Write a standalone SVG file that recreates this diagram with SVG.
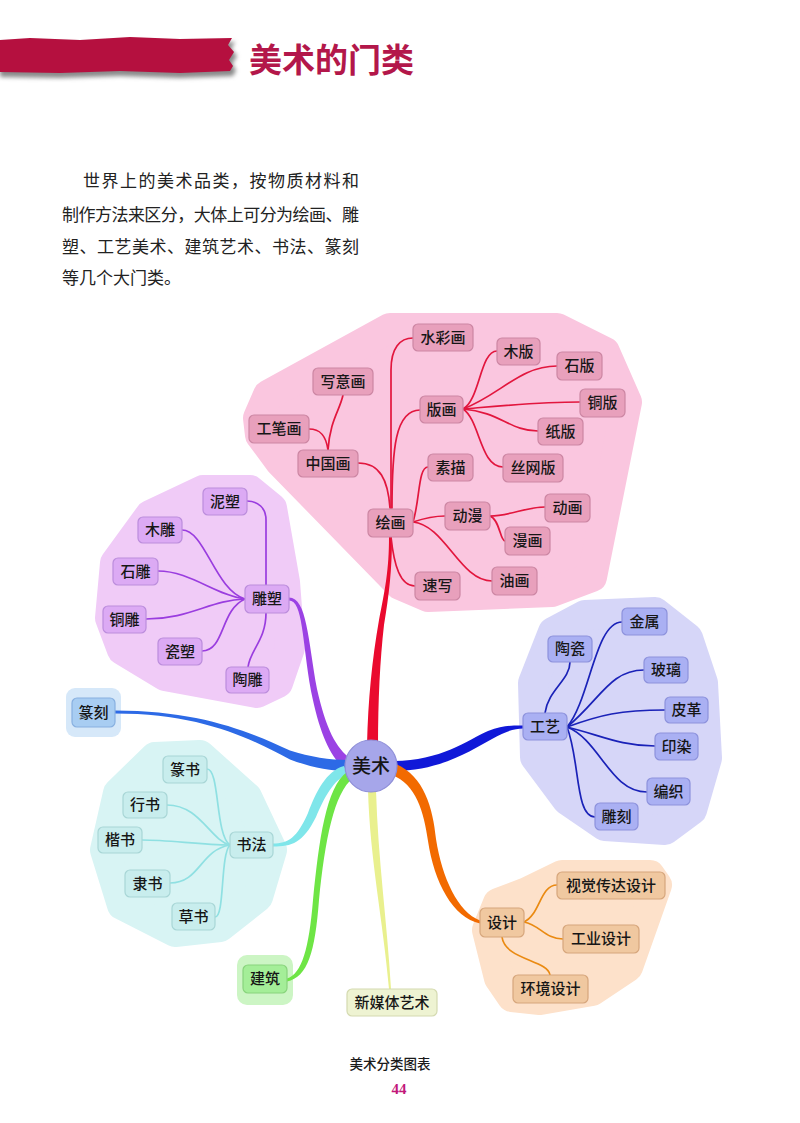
<svg xmlns="http://www.w3.org/2000/svg" width="800" height="1123" viewBox="0 0 800 1123">
<defs>
<style>
.t{font-family:"Noto Sans CJK SC","Noto Sans",sans-serif;font-size:15px;font-weight:500;fill:#161616;text-anchor:middle}
.blob{stroke-width:30;stroke-linejoin:round}
.pk rect{fill:#e8a0bc;stroke:#cc86a3;stroke-width:1.2}
.pu rect{fill:#dcaaf4;stroke:#bb8ddc;stroke-width:1.2}
.bl rect{fill:#aab0f3;stroke:#8d92dc;stroke-width:1.2}
.cy rect{fill:#c8eded;stroke:#a8d6d6;stroke-width:1.2}
.or rect{fill:#f0c8a0;stroke:#d6a67c;stroke-width:1.2}
.sub{fill:none;stroke-width:1.7;stroke-linecap:round}
.para{font-family:"Noto Sans CJK SC","Noto Sans",sans-serif;font-size:17px;fill:#222}
</style>
<filter id="blur" x="-10%" y="-30%" width="120%" height="160%"><feGaussianBlur stdDeviation="2"/></filter>
</defs>
<rect width="800" height="1123" fill="#ffffff"/>

<!-- header -->
<g id="header">
<path d="M0,44 L30,42 L80,44 L130,41 L180,43 L235,42 L231,49 L237,56 L232,64 L236,70 L233,76 L180,78 L120,76 L60,78 L0,77 Z" fill="#8a8a8a" filter="url(#blur)"/>
<path d="M0,40 L30,38 L80,40 L130,37 L180,39 L232,38 L228,45 L234,52 L229,60 L233,66 L230,71 L180,73 L120,71 L60,73 L0,72 Z" fill="#b5103f"/>
<text x="249" y="72" font-family="Noto Sans CJK SC, sans-serif" font-size="33" font-weight="bold" fill="#b3174a">美术的门类</text>
</g>

<!-- paragraph -->
<g id="paragraph">
<text class="para" x="83" y="187" textLength="276" lengthAdjust="spacing">世界上的美术品类，按物质材料和</text>
<text class="para" x="62" y="221" textLength="297" lengthAdjust="spacing">制作方法来区分，大体上可分为绘画、雕</text>
<text class="para" x="62" y="253" textLength="297" lengthAdjust="spacing">塑、工艺美术、建筑艺术、书法、篆刻</text>
<text class="para" x="62" y="284">等几个大门类。</text>
</g>

<!-- background blobs -->
<g id="blobs">
<path class="blob" fill="#fac6df" stroke="#fac6df" d="M258,418 L268,395 L390,328 L557,328 L605,352 L627,402 L592,577 L552,592 L428,597 L400,585 L280,462 L260,435 Z"/>
<path class="blob" fill="#f0cbf7" stroke="#f0cbf7" d="M203,490 L250,490 L272,508 L285,582 L290,648 L278,683 L257,693 L165,676 L122,650 L110,618 L115,563 L150,515 Z"/>
<path class="blob" fill="#d6d6f8" stroke="#d6d6f8" d="M585,615 L655,612 L688,638 L703,683 L707,758 L692,810 L665,830 L605,826 L567,800 L535,757 L533,683 L553,632 Z"/>
<path class="blob" fill="#d8f4f4" stroke="#d8f4f4" d="M155,757 L200,755 L247,797 L272,850 L258,897 L220,927 L175,932 L122,905 L105,850 L118,793 Z"/>
<path class="blob" fill="#fde1ca" stroke="#fde1ca" d="M562,875 L650,875 L657,885 L628,967 L592,991 L540,1000 L512,997 L499,978 L487,930 L498,903 L527,892 Z"/>
<rect x="237" y="955" width="56" height="50" rx="10" fill="#ccf5c4"/>
<rect x="66" y="688" width="55" height="49" rx="9" fill="#d6e8f9"/>
</g>

<!-- connectors -->
<g id="connectors">
<!-- main branches -->
<path d="M367,745 C368,700 372,660 379,620 C385,590 389,570 389,537 L392,537 C392,570 389,595 384,625 C380,660 378,700 378,745 Z" fill="#ea0a2e"/>
<path d="M289,597.5 C307,597.5 308,640 317,689 C326,729 336,748 351,759 L345,769 C330,756 320,735 311,691 C302,640 303,600.5 289,600.5 Z" fill="#9b42e4"/>
<path d="M115,710.5 C200,710.5 250,732 290,750.5 C310,757 330,760 348,760 L348,771 C330,771 310,767 290,759.5 C250,738 200,713.5 115,713.5 Z" fill="#2d6ae6"/>
<path d="M394,761 C440,761 468,740 488,731 C504,725 515,725.5 523,725.5 L523,728.5 C515,728.5 506,731 492,739 C472,750 440,771 394,771 Z" fill="#1018d8"/>
<path d="M396,764 C424,776 433,808 436,839 C442,878 458,912 480,920.5 L480,923.5 C453,918 434,882 428,841 C424,812 416,784 392,775 Z" fill="#f26a00"/>
<path d="M348,774 C334,779 324,798 316,817 C303,843 292,846.5 273,846.5 L273,843.5 C288,843.5 297,838 308,813 C316,792 326,771 344,766 Z" fill="#7fe6ea"/>
<path d="M353,778 C334,793 325,840 319,900 C315,952 308,977 287,981.5 L287,978.5 C302,974 309,948 313,900 C319,840 326,787 347,772 Z" fill="#6ee545"/>
<path d="M376,790 C378,860 387,920 391,989 L389,989 C383,920 370,860 368,790 Z" fill="#e9f08e"/>

<!-- painting sub-branches -->
<g class="sub" stroke="#e2163e">
<path d="M391,508 L391,370 C391,348 400,338 413,338"/>
<path d="M392,508 C392,450 395,410 420,410"/>
<path d="M358,463 C380,463 388,480 390,508"/>
<path d="M328,450 C330,420 340,410 343,395"/>
<path d="M309,429 C320,429 326,435 328,450"/>
<path d="M463,409 C480,400 480,351 497,351"/>
<path d="M463,409 C500,395 520,366 557,366"/>
<path d="M463,409 C510,405 540,402 580,402"/>
<path d="M463,409 C500,412 510,431 538,431"/>
<path d="M463,409 C480,420 480,467 503,467"/>
<path d="M413,522 C420,500 418,467 428,467"/>
<path d="M413,522 C425,518 435,516 445,516"/>
<path d="M490,516 C510,516 525,507 545,507"/>
<path d="M490,516 C500,520 500,541 505,541"/>
<path d="M413,522 C445,525 460,581 492,581"/>
<path d="M391,537 C394,565 400,586 415,586"/>
</g>
<!-- sculpture sub-branches -->
<g class="sub" stroke="#9a3ddf">
<path d="M266,585 L266,520 C266,508 258,501 247,501"/>
<path d="M245,599 C215,590 205,530 182,530"/>
<path d="M245,599 C215,595 190,571 158,571"/>
<path d="M245,599 C210,600 190,619 146,619"/>
<path d="M245,599 C220,610 225,651 202,651"/>
<path d="M266,613 C266,640 250,650 248,667"/>
</g>
<!-- craft sub-branches -->
<g class="sub" stroke="#1a22b8">
<path d="M567,727 C590,700 595,622 622,622"/>
<path d="M567,727 C600,700 610,670 644,670"/>
<path d="M567,727 C600,715 620,710 665,710"/>
<path d="M567,727 C600,735 620,746 655,746"/>
<path d="M567,727 C600,740 610,792 647,792"/>
<path d="M567,727 C580,760 575,817 595,817"/>
<path d="M545,713 C548,690 570,680 570,662"/>
</g>
<!-- calligraphy sub-branches -->
<g class="sub" stroke="#8fe0e2" stroke-width="1.3">
<path d="M230,845 C215,835 220,769 207,769"/>
<path d="M230,845 C210,840 200,805 167,805"/>
<path d="M230,845 C200,845 170,840 142,840"/>
<path d="M230,845 C200,850 200,883 170,883"/>
<path d="M230,845 C220,855 225,917 215,917"/>
</g>
<!-- design sub-branches -->
<g class="sub" stroke="#ea8a12">
<path d="M524,922 C540,915 540,885 557,885"/>
<path d="M524,922 C540,925 545,939 563,939"/>
<path d="M502,937 C505,960 548,960 550,975"/>
</g>
</g>

<!-- painting nodes -->
<g id="shuicaihua" class="pk"><rect x="413" y="324" width="60" height="27" rx="5"/><text class="t" x="443" y="343">水彩画</text></g>
<g id="xieyihua" class="pk"><rect x="313" y="368" width="60" height="27" rx="5"/><text class="t" x="343" y="387">写意画</text></g>
<g id="gongbihua" class="pk"><rect x="249" y="415" width="60" height="28" rx="5"/><text class="t" x="279" y="434">工笔画</text></g>
<g id="zhongguohua" class="pk"><rect x="298" y="450" width="60" height="27" rx="5"/><text class="t" x="328" y="469">中国画</text></g>
<g id="banhua" class="pk"><rect x="420" y="396" width="43" height="27" rx="5"/><text class="t" x="441.5" y="415">版画</text></g>
<g id="muban" class="pk"><rect x="497" y="338" width="43" height="27" rx="5"/><text class="t" x="518.5" y="357">木版</text></g>
<g id="shiban" class="pk"><rect x="557" y="352" width="45" height="28" rx="5"/><text class="t" x="579.5" y="371">石版</text></g>
<g id="tongban" class="pk"><rect x="580" y="389" width="45" height="28" rx="5"/><text class="t" x="602.5" y="408">铜版</text></g>
<g id="zhiban" class="pk"><rect x="538" y="418" width="45" height="27" rx="5"/><text class="t" x="560.5" y="437">纸版</text></g>
<g id="siwangban" class="pk"><rect x="503" y="454" width="60" height="28" rx="5"/><text class="t" x="533" y="473">丝网版</text></g>
<g id="sumiao" class="pk"><rect x="428" y="454" width="45" height="27" rx="5"/><text class="t" x="450.5" y="473">素描</text></g>
<g id="huihua" class="pk"><rect x="368" y="509" width="45" height="28" rx="5"/><text class="t" x="390.5" y="528">绘画</text></g>
<g id="dongman" class="pk"><rect x="445" y="502" width="45" height="28" rx="5"/><text class="t" x="467.5" y="521">动漫</text></g>
<g id="donghua" class="pk"><rect x="545" y="494" width="45" height="28" rx="5"/><text class="t" x="567.5" y="513">动画</text></g>
<g id="manhua" class="pk"><rect x="505" y="527" width="45" height="28" rx="5"/><text class="t" x="527.5" y="546">漫画</text></g>
<g id="youhua" class="pk"><rect x="492" y="567" width="45" height="28" rx="5"/><text class="t" x="514.5" y="586">油画</text></g>
<g id="suxie" class="pk"><rect x="415" y="572" width="45" height="28" rx="5"/><text class="t" x="437.5" y="591">速写</text></g>

<!-- sculpture nodes -->
<g id="nisu" class="pu"><rect x="203" y="488" width="44" height="27" rx="5"/><text class="t" x="225" y="507">泥塑</text></g>
<g id="mudiao" class="pu"><rect x="138" y="517" width="44" height="26" rx="5"/><text class="t" x="160" y="535">木雕</text></g>
<g id="shidiao" class="pu"><rect x="113" y="558" width="45" height="27" rx="5"/><text class="t" x="135.5" y="577">石雕</text></g>
<g id="tongdiao" class="pu"><rect x="103" y="606" width="43" height="27" rx="5"/><text class="t" x="124.5" y="625">铜雕</text></g>
<g id="cisu" class="pu"><rect x="158" y="638" width="44" height="27" rx="5"/><text class="t" x="180" y="657">瓷塑</text></g>
<g id="taodiao" class="pu"><rect x="226" y="667" width="43" height="26" rx="5"/><text class="t" x="247.5" y="685">陶雕</text></g>
<g id="diaosu" class="pu"><rect x="245" y="585" width="44" height="28" rx="5"/><text class="t" x="267" y="604">雕塑</text></g>

<g id="zhuanke"><rect x="72" y="698" width="43" height="29" rx="5" fill="#a8cdf2" stroke="#88b0e0" stroke-width="1.2"/><text class="t" x="93.5" y="718">篆刻</text></g>

<!-- craft nodes -->
<g id="jinshu" class="bl"><rect x="622" y="608" width="45" height="27" rx="5"/><text class="t" x="644.5" y="627">金属</text></g>
<g id="taoci" class="bl"><rect x="548" y="636" width="44" height="26" rx="5"/><text class="t" x="570" y="654">陶瓷</text></g>
<g id="boli" class="bl"><rect x="644" y="657" width="44" height="26" rx="5"/><text class="t" x="666" y="675">玻璃</text></g>
<g id="pige" class="bl"><rect x="665" y="697" width="43" height="26" rx="5"/><text class="t" x="686.5" y="715">皮革</text></g>
<g id="gongyi" class="bl"><rect x="523" y="713" width="44" height="27" rx="5"/><text class="t" x="545" y="732">工艺</text></g>
<g id="yinran" class="bl"><rect x="655" y="733" width="43" height="27" rx="5"/><text class="t" x="676.5" y="752">印染</text></g>
<g id="bianzhi" class="bl"><rect x="647" y="778" width="43" height="27" rx="5"/><text class="t" x="668.5" y="797">编织</text></g>
<g id="diaoke" class="bl"><rect x="595" y="803" width="43" height="27" rx="5"/><text class="t" x="616.5" y="822">雕刻</text></g>

<!-- calligraphy nodes -->
<g id="zhuanshu" class="cy"><rect x="163" y="756" width="44" height="27" rx="5"/><text class="t" x="185" y="775">篆书</text></g>
<g id="xingshu" class="cy"><rect x="123" y="792" width="44" height="26" rx="5"/><text class="t" x="145" y="810">行书</text></g>
<g id="kaishu" class="cy"><rect x="98" y="827" width="44" height="26" rx="5"/><text class="t" x="120" y="845">楷书</text></g>
<g id="shufa" class="cy"><rect x="230" y="832" width="43" height="26" rx="5"/><text class="t" x="251.5" y="850">书法</text></g>
<g id="lishu" class="cy"><rect x="125" y="870" width="45" height="27" rx="5"/><text class="t" x="147.5" y="889">隶书</text></g>
<g id="caoshu" class="cy"><rect x="172" y="903" width="43" height="27" rx="5"/><text class="t" x="193.5" y="922">草书</text></g>

<g id="jianzhu"><rect x="243" y="965" width="44" height="28" rx="5" fill="#a4ee98" stroke="#88d47c" stroke-width="1.2"/><text class="t" x="265" y="984">建筑</text></g>
<g id="xinmeiti"><rect x="347" y="989" width="90" height="27" rx="5" fill="#eef3d2" stroke="#d4dab0" stroke-width="1.2"/><text class="t" x="392" y="1008">新媒体艺术</text></g>

<!-- design nodes -->
<g id="sheji" class="or"><rect x="480" y="908" width="44" height="29" rx="5"/><text class="t" x="502" y="928">设计</text></g>
<g id="shijue" class="or"><rect x="557" y="872" width="108" height="27" rx="5"/><text class="t" x="611" y="891">视觉传达设计</text></g>
<g id="gongye" class="or"><rect x="563" y="925" width="76" height="28" rx="5"/><text class="t" x="601" y="944">工业设计</text></g>
<g id="huanjing" class="or"><rect x="513" y="975" width="75" height="28" rx="5"/><text class="t" x="550.5" y="994">环境设计</text></g>

<!-- center -->
<g id="meishu"><circle cx="371" cy="766" r="26" fill="#a6a6ea" stroke="#8f8fd8" stroke-width="1.2"/><text class="t" x="371" y="773" style="font-size:19px">美术</text></g>

<!-- footer -->
<g id="footer">
<text x="390" y="1069" font-family="Noto Sans CJK SC, sans-serif" font-size="13.5" font-weight="500" fill="#1a1a1a" text-anchor="middle">美术分类图表</text>
<text x="399" y="1094" font-family="Liberation Serif, serif" font-size="15" font-weight="bold" fill="#c2187a" text-anchor="middle">44</text>
</g>
</svg>
